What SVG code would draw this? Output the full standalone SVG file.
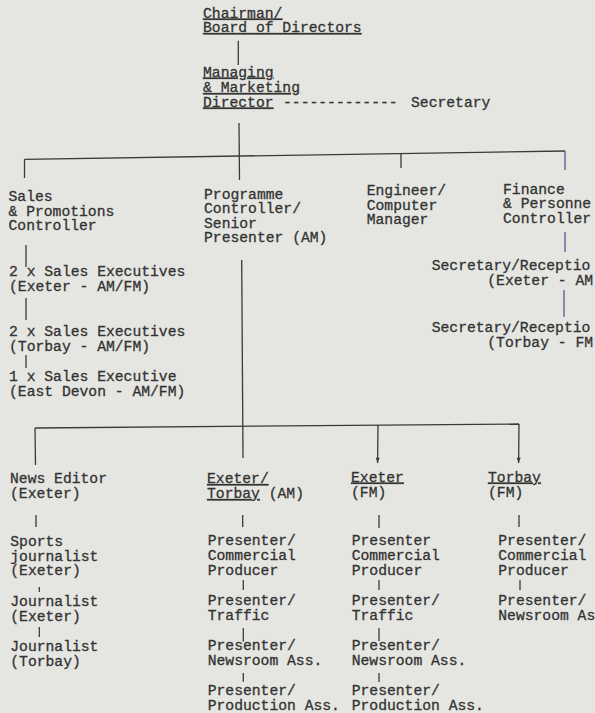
<svg xmlns="http://www.w3.org/2000/svg" width="595" height="713" viewBox="0 0 595 713">
<style>
text { font-family: "Liberation Mono", "Courier New", monospace; font-size: 14.7px; fill: #333333; stroke: #333333; stroke-width: 0.3; }
.u { text-decoration: underline; }
.c { stroke: #3a3a3a; stroke-width: 1.3; fill: none; }
.b { stroke: #4a4a8e; stroke-width: 1.2; fill: none; }
</style>
<defs>
<marker id="ah" viewBox="0 0 8 6" refX="8" refY="3" markerWidth="6" markerHeight="4" markerUnits="userSpaceOnUse" orient="auto">
<path d="M0,0 L8,3 L0,6 Z" fill="#3a3a3a"/>
</marker>
</defs>
<rect width="595" height="713" fill="#e5e6e1"/>

<g id="connectors">
<line class="c" x1="238.3" y1="40.7" x2="238.3" y2="65"/>
<line class="c" x1="239" y1="123" x2="239.5" y2="180"/>
<line class="c" x1="24.5" y1="159.3" x2="565" y2="151"/>
<line class="c" x1="24.5" y1="159.3" x2="24.5" y2="178"/>
<line class="c" x1="401" y1="153.5" x2="401" y2="168"/>
<line class="b" x1="565" y1="151" x2="565" y2="170"/>
<line class="c" x1="26" y1="245" x2="26" y2="267"/>
<line class="c" x1="26" y1="298" x2="26" y2="320"/>
<line class="c" x1="26" y1="355" x2="26" y2="368"/>
<line class="b" x1="565" y1="232" x2="565" y2="252"/>
<line class="b" x1="564" y1="290" x2="564" y2="317"/>
<line class="c" x1="241.7" y1="260" x2="243" y2="458"/>
<line class="c" x1="35" y1="428" x2="519" y2="424"/>
<line class="c" x1="35" y1="428" x2="35.5" y2="465"/>
<line class="c" x1="378" y1="425" x2="377.6" y2="463" marker-end="url(#ah)"/>
<line class="c" x1="519" y1="424" x2="518.6" y2="463" marker-end="url(#ah)"/>
<line class="c" x1="36" y1="515" x2="36" y2="527"/>
<line class="c" x1="242.7" y1="515" x2="242.7" y2="527"/>
<line class="c" x1="379" y1="515" x2="379" y2="528"/>
<line class="c" x1="519" y1="515" x2="519" y2="527"/>
<line class="c" x1="39.3" y1="587" x2="39.3" y2="592"/>
<line class="c" x1="39.3" y1="627" x2="39.3" y2="637"/>
<line class="c" x1="243.3" y1="580" x2="243.3" y2="590"/>
<line class="c" x1="243.3" y1="628" x2="243.3" y2="641.7"/>
<line class="c" x1="243.3" y1="673" x2="243.3" y2="681.7"/>
<line class="c" x1="379" y1="580" x2="379" y2="590"/>
<line class="c" x1="379" y1="628" x2="379" y2="641"/>
<line class="c" x1="379" y1="673" x2="379" y2="682"/>
<line class="c" x1="520" y1="580" x2="520" y2="590"/>
<text x="283" y="106.5">-------------</text>
</g>

<g id="chairman">
<text x="203" y="17.5" class="u">Chairman/</text>
<text x="203" y="32" class="u">Board of Directors</text>
</g>
<g id="managing-director">
<text x="203" y="76.5" class="u">Managing</text>
<text x="203" y="92" class="u">&amp; Marketing</text>
<text x="203" y="106.5" class="u">Director</text>
</g>
<g id="secretary">
<text x="411" y="106.5">Secretary</text>
</g>

<g id="sales-controller">
<text x="8.5" y="201">Sales</text>
<text x="8.5" y="215.5">&amp; Promotions</text>
<text x="8.5" y="230">Controller</text>
</g>
<g id="programme-controller">
<text x="204" y="198.5">Programme</text>
<text x="204" y="213">Controller/</text>
<text x="204" y="227.5">Senior</text>
<text x="204" y="242">Presenter (AM)</text>
</g>
<g id="engineer">
<text x="366.7" y="195">Engineer/</text>
<text x="366.7" y="209.5">Computer</text>
<text x="366.7" y="224">Manager</text>
</g>
<g id="finance">
<text x="503" y="193.5">Finance</text>
<text x="503" y="208">&amp; Personne</text>
<text x="503" y="222.5">Controller</text>
</g>

<g id="sales-exec-exeter">
<text x="9" y="276">2 x Sales Executives</text>
<text x="9" y="290.5">(Exeter - AM/FM)</text>
</g>
<g id="sales-exec-torbay">
<text x="9" y="336">2 x Sales Executives</text>
<text x="9" y="351">(Torbay - AM/FM)</text>
</g>
<g id="sales-exec-east-devon">
<text x="9" y="380.5">1 x Sales Executive</text>
<text x="9" y="395.5">(East Devon - AM/FM)</text>
</g>
<g id="secretary-exeter">
<text x="431.7" y="269.5">Secretary/Receptio</text>
<text x="487.3" y="284.5">(Exeter - AM</text>
</g>
<g id="secretary-torbay">
<text x="431.7" y="331.5">Secretary/Receptio</text>
<text x="487.3" y="346.5">(Torbay - FM</text>
</g>

<g id="news-editor">
<text x="10" y="483">News Editor</text>
<text x="10" y="498">(Exeter)</text>
</g>
<g id="exeter-torbay-am">
<text x="207" y="483" class="u">Exeter/</text>
<text x="207" y="498"><tspan class="u">Torbay</tspan> (AM)</text>
</g>
<g id="exeter-fm">
<text x="351" y="481.5" class="u">Exeter</text>
<text x="351" y="496.5">(FM)</text>
</g>
<g id="torbay-fm">
<text x="488" y="481.5" class="u">Torbay</text>
<text x="488" y="496.5">(FM)</text>
</g>

<g id="sports-journalist">
<text x="10.3" y="546">Sports</text>
<text x="10.3" y="560.5">journalist</text>
<text x="10.3" y="575">(Exeter)</text>
</g>
<g id="journalist-exeter">
<text x="10.3" y="605.5">Journalist</text>
<text x="10.3" y="620.5">(Exeter)</text>
</g>
<g id="journalist-torbay">
<text x="10.3" y="650.5">Journalist</text>
<text x="10.3" y="665.5">(Torbay)</text>
</g>

<g id="am-commercial">
<text x="207.7" y="545">Presenter/</text>
<text x="207.7" y="560">Commercial</text>
<text x="207.7" y="575">Producer</text>
</g>
<g id="am-traffic">
<text x="207.7" y="605">Presenter/</text>
<text x="207.7" y="620">Traffic</text>
</g>
<g id="am-newsroom">
<text x="207.7" y="650">Presenter/</text>
<text x="207.7" y="665">Newsroom Ass.</text>
</g>
<g id="am-production">
<text x="207.7" y="695">Presenter/</text>
<text x="207.7" y="710">Production Ass.</text>
</g>

<g id="fm-commercial">
<text x="351.7" y="545">Presenter</text>
<text x="351.7" y="560">Commercial</text>
<text x="351.7" y="575">Producer</text>
</g>
<g id="fm-traffic">
<text x="351.7" y="605">Presenter/</text>
<text x="351.7" y="620">Traffic</text>
</g>
<g id="fm-newsroom">
<text x="351.7" y="650">Presenter/</text>
<text x="351.7" y="665">Newsroom Ass.</text>
</g>
<g id="fm-production">
<text x="351.7" y="695">Presenter/</text>
<text x="351.7" y="710">Production Ass.</text>
</g>

<g id="torbay-commercial">
<text x="498.3" y="545">Presenter/</text>
<text x="498.3" y="560">Commercial</text>
<text x="498.3" y="575">Producer</text>
</g>
<g id="torbay-newsroom">
<text x="498.3" y="605">Presenter/</text>
<text x="498.3" y="620">Newsroom As</text>
</g>
</svg>
